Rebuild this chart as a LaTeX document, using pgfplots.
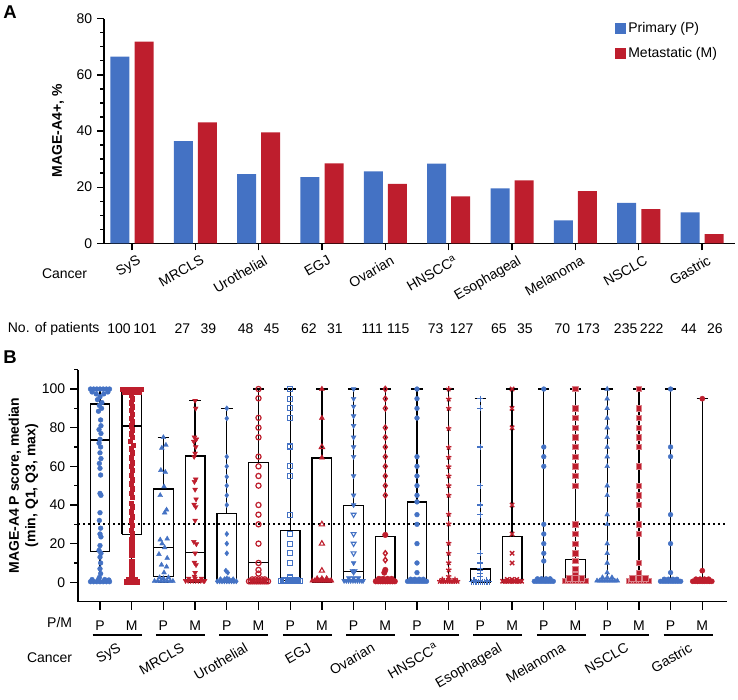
\documentclass[border=0pt]{standalone}
\usepackage{fontspec}
\setmainfont{Liberation Sans}
\usepackage{pgfplots}
\pgfplotsset{compat=1.18}
\definecolor{pblue}{RGB}{68,114,196}
\definecolor{mred}{RGB}{190,30,45}
\pgfplotsset{
  bx/.style={black, line width=1.3pt, mark=none, solid, unbounded coords=jump, line join=miter},
  pts/.style={only marks, mark size=2.4pt},
}
\begin{document}
\fontsize{14}{16.5}\selectfont
\begin{tikzpicture}
\useasboundingbox (0pt,0pt) rectangle (738pt,-699pt);
% ---------------- Panel A ----------------
\begin{axis}[
  at={(104pt,-243.3pt)}, anchor=south west,
  scale only axis, width=631pt, height=224.6pt,
  xmin=-0.442, xmax=9.52, ymin=0, ymax=80,
  axis x line=bottom, axis y line=left,
  axis line style={line width=1.4pt, -},
  xtick={0,...,9},
  xticklabels={SyS,MRCLS,Urothelial,EGJ,Ovarian,HNSCC\textsuperscript{a},Esophageal,Melanoma,NSCLC,Gastric},
  xticklabel style={rotate=30, anchor=north east, inner sep=0pt, xshift=2pt, yshift=-6pt},
  ytick={0,20,...,80}, minor y tick num=3,
  tick align=outside,
  major tick length=7pt, minor tick length=4pt,
  every tick/.style={line width=1.3pt, black},
  /pgf/number format/assume math mode=true,
  clip=false,
  legend style={at={(0.81,0.995)}, anchor=north west, draw=none, fill=none,
    inner sep=0pt, row sep=9pt, cells={anchor=west}},
]
\addplot[ybar, bar width=19pt, bar shift=0pt, fill=pblue, draw=none,
  legend image code/.code={\fill[pblue] (0pt,-5.5pt) rectangle (11pt,5.5pt);}]
  coordinates {(-0.19,66.5)(0.81,36.4)(1.81,24.6)(2.81,23.6)(3.81,25.6)(4.81,28.4)(5.81,19.6)(6.81,8.2)(7.81,14.4)(8.81,11.0)};
\addlegendentry{Primary (P)}
\addplot[ybar, bar width=19pt, bar shift=0pt, fill=mred, draw=none,
  legend image code/.code={\fill[mred] (0pt,-5.5pt) rectangle (11pt,5.5pt);}]
  coordinates {(0.19,71.8)(1.19,43.1)(2.19,39.5)(3.19,28.5)(4.19,21.2)(5.19,16.7)(6.19,22.4)(7.19,18.6)(8.19,12.2)(9.19,3.3)};
\addlegendentry{Metastatic (M)}
\end{axis}
\node[font=\bfseries\fontsize{18.5}{20}\selectfont] at (10pt,-12pt) {A};
\node[rotate=90, font=\bfseries] at (58pt,-131pt) {MAGE-A4+, \%};
\node[anchor=east] at (92pt,-274pt) {Cancer};
\node[anchor=west] at (3pt,-329pt) {No. of patients};
\foreach \i/\p/\m in {0/100/101,1/27/39,2/48/45,3/62/31,4/111/115,5/73/127,6/65/35,7/70/173,8/235/222,9/44/26}{
  \node at ({119pt+63.33pt*\i},-329pt) {\p};
  \node at ({145pt+63.33pt*\i},-329pt) {\m};
}
% ---------------- Panel B ----------------
\begin{axis}[
  at={(78pt,-601.6pt)}, anchor=south west,
  scale only axis, width=649pt, height=231.9pt,
  xmin=-0.694, xmax=19.78, ymin=-10, ymax=110,
  axis x line=bottom, axis y line=left,
  axis line style={line width=1.4pt, -},
  xtick={0,...,19},
  xticklabels={P,M,P,M,P,M,P,M,P,M,P,M,P,M,P,M,P,M,P,M},
  xticklabel style={yshift=-6pt},
  ytick={0,20,...,100}, minor ytick={10,30,50,70,90,110},
  tick align=outside,
  major tick length=8pt, minor tick length=4pt,
  every tick/.style={line width=1.3pt, black},
  /pgf/number format/assume math mode=true,
  clip=false,
]
\addplot[black, line width=2pt, dash pattern=on 2pt off 3pt] coordinates {(-0.694,30)(19.78,30)};
% boxes: Q1-Q3 box, median, whiskers to min and max with caps
\addplot[bx] coordinates {(-0.31,16)(0.31,16)(0.31,92.2)(-0.31,92.2)(-0.31,16)(0,nan)(-0.31,73.6)(0.31,73.6)(0,nan)(0,92.2)(0,100)(0,nan)(-0.18,100)(0.18,100)(0,nan)(0,0)(0,16)(0,nan)(-0.18,0)(0.18,0)};
\addplot[bx] coordinates {(0.69,24.8)(1.31,24.8)(1.31,99.5)(0.69,99.5)(0.69,24.8)(1,nan)(0.69,80.9)(1.31,80.9)(1,nan)(1,99.5)(1,100)(1,nan)(0.82,100)(1.18,100)(1,nan)(1,0)(1,24.8)(1,nan)(0.82,0)(1.18,0)};
\addplot[bx] coordinates {(1.69,2.9)(2.31,2.9)(2.31,48.3)(1.69,48.3)(1.69,2.9)(2,nan)(1.69,17.9)(2.31,17.9)(2,nan)(2,48.3)(2,75)(2,nan)(1.82,75)(2.18,75)(2,nan)(2,0)(2,2.9)(2,nan)(1.82,0)(2.18,0)};
\addplot[bx] coordinates {(2.69,1)(3.31,1)(3.31,65.3)(2.69,65.3)(2.69,1)(3,nan)(2.69,15.3)(3.31,15.3)(3,nan)(3,65.3)(3,94.1)(3,nan)(2.82,94.1)(3.18,94.1)(3,nan)(3,0)(3,1)(3,nan)(2.82,0)(3.18,0)};
\addplot[bx] coordinates {(3.69,0.7)(4.31,0.7)(4.31,35.7)(3.69,35.7)(3.69,0.7)(4,nan)(3.69,1)(4.31,1)(4,nan)(4,35.7)(4,90)(4,nan)(3.82,90)(4.18,90)(4,nan)(4,0)(4,0.7)(4,nan)(3.82,0)(4.18,0)};
\addplot[bx] coordinates {(4.69,0)(5.31,0)(5.31,61.9)(4.69,61.9)(4.69,0)(5,nan)(4.69,10.3)(5.31,10.3)(5,nan)(5,61.9)(5,100)(5,nan)(4.82,100)(5.18,100)};
\addplot[bx] coordinates {(5.69,0)(6.31,0)(6.31,26.9)(5.69,26.9)(5.69,0)(6,nan)(5.69,1)(6.31,1)(6,nan)(6,26.9)(6,100)(6,nan)(5.82,100)(6.18,100)};
\addplot[bx] coordinates {(6.69,0)(7.31,0)(7.31,64.3)(6.69,64.3)(6.69,0)(7,nan)(7,64.3)(7,100)(7,nan)(6.82,100)(7.18,100)};
\addplot[bx] coordinates {(7.69,1)(8.31,1)(8.31,39.7)(7.69,39.7)(7.69,1)(8,nan)(7.69,5.5)(8.31,5.5)(8,nan)(8,39.7)(8,100)(8,nan)(7.82,100)(8.18,100)(8,nan)(8,0)(8,1)};
\addplot[bx] coordinates {(8.69,0)(9.31,0)(9.31,23.8)(8.69,23.8)(8.69,0)(9,nan)(9,23.8)(9,100)(9,nan)(8.82,100)(9.18,100)};
\addplot[bx] coordinates {(9.69,0)(10.31,0)(10.31,41.6)(9.69,41.6)(9.69,0)(10,nan)(10,41.6)(10,100)(10,nan)(9.82,100)(10.18,100)};
\addplot[bx] coordinates {(11,0)(11,100)(11,nan)(10.82,100)(11.18,100)};
\addplot[bx] coordinates {(11.69,0)(12.31,0)(12.31,6.8)(11.69,6.8)(11.69,0)(12,nan)(12,6.8)(12,95)(12,nan)(11.82,95)(12.18,95)};
\addplot[bx] coordinates {(12.69,0)(13.31,0)(13.31,23.8)(12.69,23.8)(12.69,0)(13,nan)(13,23.8)(13,100)(13,nan)(12.82,100)(13.18,100)};
\addplot[bx] coordinates {(14,0)(14,100)(14,nan)(13.82,100)(14.18,100)};
\addplot[bx] coordinates {(14.69,0)(15.31,0)(15.31,11.8)(14.69,11.8)(14.69,0)(15,nan)(15,11.8)(15,100)(15,nan)(14.82,100)(15.18,100)};
\addplot[bx] coordinates {(16,0)(16,100)(16,nan)(15.82,100)(16.18,100)};
\addplot[bx] coordinates {(17,0)(17,100)(17,nan)(16.82,100)(17.18,100)};
\addplot[bx] coordinates {(18,0)(18,100)(18,nan)(17.82,100)(18.18,100)};
\addplot[bx] coordinates {(19,0)(19,95)(19,nan)(18.82,95)(19.18,95)};
% SyS P
\addplot[pts, mark=*, pblue] coordinates {(-0.3,100)(-0.2,100)(-0.1,100)(0,100)(0.1,100)(0.2,100)(0.3,100)(-0.25,98.5)(0.25,98.5)(-0.12,97.5)(0.12,97.5)(0,96)(-0.08,94.5)(0.06,93)(-0.02,91.5)(0.05,90)(-0.05,88.5)(0.02,84)(0.03,81)(-0.03,79)(0.03,77)(0,74)(-0.03,72)(0.02,70)(0,67)(0.03,64)(-0.02,61.5)(0,59)(0.02,55.5)(0,46)(0.03,45)(0,36)(-0.02,32)(0.02,28)(0,25)(0.03,23.5)(0,19)(-0.03,16.5)(0.03,15)(0,13)(0.02,10)(0,7)(0.02,4.5)(-0.02,2.5)(-0.3,0.3)(-0.2,0.3)(-0.1,0.3)(0,0.3)(0.1,0.3)(0.2,0.3)(0.3,0.3)(-0.25,1.4)(-0.05,1.4)(0.15,1.4)(0.28,1.2)};
% SyS M
\addplot[pts, mark=square*, mark size=2.3pt, mred] coordinates {(0.7,100)(0.8,100)(0.9,100)(1,100)(1.1,100)(1.2,100)(1.3,100)(0.78,98.5)(1.22,98.5)(0.9,98.5)(1.1,98.5)(0.98,97)(1.02,95)(0.98,93)(1.02,91)(0.98,89)(1.02,87)(0.98,85)(1.02,83)(0.98,81)(1.02,79)(0.98,77)(1.02,75)(0.95,73)(1.05,71)(0.98,69)(1.02,67)(0.98,64.5)(1.02,62)(0.98,60)(1.02,58)(0.98,55.5)(1.02,53)(0.98,51)(1.02,48.5)(0.98,46)(1.02,44)(0.98,41)(1.02,39)(0.98,36.5)(1.02,34)(0.98,32)(1.02,29.5)(0.98,27)(1.02,25)(1,22)(1,19.5)(1,17)(1,14)(1,11)(1,8)(1,5.5)(1,3)(0.85,0.4)(0.95,0.4)(1.05,0.4)(1.15,0.4)(0.9,1.5)(1.1,1.5)};
% MRCLS P
\addplot[pts, mark=triangle*, mark size=2.8pt, pblue] coordinates {(2,75)(2.08,71)(1.95,69.5)(1.92,58)(2.06,57)(2.02,49.5)(1.9,45)(2.1,37.5)(2.04,36)(1.9,22)(2.12,22.5)(1.96,20)(2.04,18)(1.86,14.5)(2.12,12.5)(1.94,9)(2.1,8)(2.02,5)(1.88,2.5)(2.16,2.5)(2,2)(1.72,0.6)(1.82,0.6)(1.92,0.6)(2.02,0.6)(2.12,0.6)(2.22,0.6)(2.3,0.6)};
% MRCLS M
\addplot[pts, mark=triangle*, mark size=2.8pt, mark options={rotate=180}, mred] coordinates {(3,94)(3.02,90)(2.98,75)(3.04,74)(2.96,72.8)(3.02,70)(3,66.7)(2.97,65)(3.02,53.3)(2.98,52)(3,48)(3.03,43)(2.97,40.2)(3.02,39)(3,32)(2.96,21)(3.04,19.8)(3,15)(2.98,10.2)(3.03,9)(3,5)(2.98,3)(2.7,0.8)(2.78,0.8)(2.86,0.8)(2.94,0.8)(3.02,0.8)(3.1,0.8)(3.18,0.8)(3.26,0.8)(3.3,0.8)(2.8,2)(3,2)(3.2,2)};
% Urothelial P
\addplot[pts, mark=diamond*, mark size=2.6pt, pblue] coordinates {(4,90)(4,84.8)(4,65)(4,60)(4,54.6)(4,50)(4,45)(4,40)(4,25)(4,20)(4,15)(3.97,6)(4.03,5)(4,2)(3.7,0.5)(3.775,0.5)(3.85,0.5)(3.925,0.5)(4,0.5)(4.075,0.5)(4.15,0.5)(4.225,0.5)(4.3,0.5)(3.8,1.6)(3.93,1.6)(4.07,1.6)(4.2,1.6)};
% Urothelial M
\addplot[pts, mark=o, mark size=2.6pt, mark options={line width=1.2pt}, mred] coordinates {(5,100)(5,95.2)(5,85.1)(5,80)(5,75)(5,65)(5,60)(5,55)(5,50)(5,40)(5,35)(5,30)(5,20)(5,10)(5,6.4)(5,4.5)(4.7,0.5)(4.76,0.5)(4.82,0.5)(4.88,0.5)(4.94,0.5)(5,0.5)(5.06,0.5)(5.12,0.5)(5.18,0.5)(5.24,0.5)(5.3,0.5)(4.8,1.5)(4.9,1.5)(5,1.5)(5.1,1.5)(5.2,1.5)};
% EGJ P
\addplot[pts, mark=square, mark size=2.5pt, mark options={line width=1.1pt}, pblue] coordinates {(6,100)(6,95)(6,90)(6,85)(6,70)(6,70.6)(6,60)(6,55)(6,35)(6,25)(6,20)(6,15)(6,10)(6,2.5)(5.7,0.5)(5.76,0.5)(5.82,0.5)(5.88,0.5)(5.94,0.5)(6,0.5)(6.06,0.5)(6.12,0.5)(6.18,0.5)(6.24,0.5)(6.3,0.5)(5.8,1.2)(6,1.2)(6.2,1.2)};
% EGJ M filled
\addplot[pts, mark=triangle*, mark size=3pt, mred] coordinates {(7,100)(7,85)(7,64.5)(6.7,0.8)(6.77,0.8)(6.84,0.8)(6.91,0.8)(6.98,0.8)(7.05,0.8)(7.12,0.8)(7.19,0.8)(7.26,0.8)(7.3,0.8)(6.85,2)(7,2)(7.15,2)};
% EGJ M open
\addplot[pts, mark=triangle, mark size=3pt, mark options={line width=1.1pt}, mred] coordinates {(7,70)(7,30)(7,20)(7,6)};
% Ovarian P filled
\addplot[pts, mark=triangle*, mark size=2.8pt, mark options={rotate=180}, pblue] coordinates {(8,100)(8,95)(8,91)(8,86)(8,81)(8,75)(8,70)(8,65)(8,55)(8,45)(8,40)(8,10)(7.96,6)(8.04,6)(8,5)(7.7,0.8)(7.77,0.8)(7.84,0.8)(7.91,0.8)(7.98,0.8)(8.05,0.8)(8.12,0.8)(8.19,0.8)(8.26,0.8)(8.3,0.8)(7.85,2.2)(8,2.2)(8.15,2.2)};
% Ovarian P open
\addplot[pts, mark=triangle, mark size=2.8pt, mark options={rotate=180, line width=1.1pt}, pblue] coordinates {(8,35)(8,25)(8,20)(8,15)};
% Ovarian M open diamond
\addplot[pts, mark=diamond, mark size=2.6pt, mark options={line width=1.4pt}, mred] coordinates {(9,100)(9,95)(9,90)(9,80)(9,75)(9,70)(9,65)(9,60)(9,55)(9,50)(9,45)(9,15)(9,11.5)};
% Ovarian M filled
\addplot[pts, mark=*, mark size=2.8pt, mred] coordinates {(9,24.5)(9,6.4)(8.97,5)(8.7,0.5)(8.775,0.5)(8.85,0.5)(8.925,0.5)(9,0.5)(9.075,0.5)(9.15,0.5)(9.225,0.5)(9.3,0.5)(8.8,1.8)(8.93,1.8)(9.07,1.8)(9.2,1.8)};
% HNSCC P
\addplot[pts, mark=*, pblue] coordinates {(10,100)(10,95)(10,90)(10,85)(10,65)(10,60)(10,55)(10,50)(10,45)(10,41.6)(10,35)(10,30)(10,20)(10,10)(10,5)(9.7,0.5)(9.775,0.5)(9.85,0.5)(9.925,0.5)(10,0.5)(10.075,0.5)(10.15,0.5)(10.225,0.5)(10.3,0.5)(9.8,1.6)(9.93,1.6)(10.07,1.6)(10.2,1.6)};
% HNSCC M
\addplot[pts, mark=star, mark size=2.8pt, mark options={line width=1.3pt}, mred] coordinates {(11,100)(11,94.8)(11,90)(11,79.6)(11,69.8)(11,64.7)(11,59.8)(11,55)(11,50)(11,45)(11,35.2)(11,30.2)(11,20.2)(11,15)(11,10.1)(11,6.4)(11,3)(10.72,0.5)(10.79,0.5)(10.86,0.5)(10.93,0.5)(11,0.5)(11.07,0.5)(11.14,0.5)(11.21,0.5)(11.28,0.5)(10.8,1.5)(11,1.5)(11.2,1.5)};
% Esophageal P
\addplot[pts, mark=+, mark size=3pt, mark options={line width=1.2pt}, pblue] coordinates {(12,95)(12,90)(12,70)(12,50)(12,40)(12,35)(12,15)(12,10)(12,7)(12,6)(12,4.5)(12,3)(11.72,0.3)(11.79,0.3)(11.86,0.3)(11.93,0.3)(12,0.3)(12.07,0.3)(12.14,0.3)(12.21,0.3)(12.28,0.3)(11.8,1)(12,1)(12.2,1)};
% Esophageal M
\addplot[pts, mark=x, mark size=3pt, mark options={line width=1.4pt}, mred] coordinates {(13,100)(13,90)(13,80)(13,40)(13,25)(13,15)(13,10)(12.7,0.5)(12.775,0.5)(12.85,0.5)(12.925,0.5)(13,0.5)(13.075,0.5)(13.15,0.5)(13.225,0.5)(13.3,0.5)(12.85,1.5)(13,1.5)(13.15,1.5)};
% Melanoma P
\addplot[pts, mark=*, pblue] coordinates {(14,100)(14,70)(14,65)(14,60)(14,30)(14,25)(14,20)(14,15)(14,11)(13.7,0.5)(13.775,0.5)(13.85,0.5)(13.925,0.5)(14,0.5)(14.075,0.5)(14.15,0.5)(14.225,0.5)(14.3,0.5)(13.8,1.8)(13.93,1.8)(14.07,1.8)(14.2,1.8)};
% Melanoma M
\addplot[pts, mark=square*, mark size=2.7pt, mark options={draw=mred!55!white, line width=0.7pt}, mred] coordinates {(15,100)(15,90)(15,85)(15,80)(15,75)(15,70)(15,65)(15,60)(15,55)(15,50)(15,30)(15,25)(15,20)(15,15)(15,11)(15,7)(15,4)(14.68,0.8)(14.76,0.8)(14.84,0.8)(14.92,0.8)(15,0.8)(15.08,0.8)(15.16,0.8)(15.24,0.8)(15.32,0.8)(14.8,2)(15,2)(15.2,2)};
% NSCLC P
\addplot[pts, mark=triangle*, mark size=2.8pt, pblue] coordinates {(16,100)(16,95)(16,90)(16,85)(16,80)(16,75)(16,70)(16,65)(16,60)(16,50)(16,45)(16,35)(16,30)(16,20)(16,15)(16,10)(16,5)(15.68,0.8)(15.76,0.8)(15.84,0.8)(15.92,0.8)(16,0.8)(16.08,0.8)(16.16,0.8)(16.24,0.8)(16.32,0.8)(15.85,2.5)(16,2.5)(16.15,2.5)};
% NSCLC M
\addplot[pts, mark=square*, mark size=2.7pt, mark options={draw=mred!55!white, line width=0.7pt}, mred] coordinates {(17,100)(17,90)(17,85)(17,80)(17,75)(17,70)(17,60)(17,50)(17,45)(17,40)(17,30)(17,25)(17,10)(17,5)(16.68,0.8)(16.76,0.8)(16.84,0.8)(16.92,0.8)(17,0.8)(17.08,0.8)(17.16,0.8)(17.24,0.8)(17.32,0.8)(16.8,2)(17,2)(17.2,2)};
% Gastric P
\addplot[pts, mark=*, pblue] coordinates {(18,100)(18,70)(18,65)(18,35)(18,20)(18,5)(17.68,0.5)(17.76,0.5)(17.84,0.5)(17.92,0.5)(18,0.5)(18.08,0.5)(18.16,0.5)(18.24,0.5)(18.32,0.5)(17.8,1.6)(17.93,1.6)(18.07,1.6)(18.2,1.6)};
% Gastric M
\addplot[pts, mark=*, mark size=2.6pt, mred] coordinates {(19,95)(19,6)(18.7,0.5)(18.775,0.5)(18.85,0.5)(18.925,0.5)(19,0.5)(19.075,0.5)(19.15,0.5)(19.225,0.5)(19.3,0.5)(18.8,1.6)(18.93,1.6)(19.07,1.6)(19.2,1.6)};
\end{axis}
\node[font=\bfseries\fontsize{18.5}{20}\selectfont] at (10pt,-357pt) {B};
\node[rotate=90, font=\bfseries, align=center, text depth=0pt] at (22pt,-485.6pt) {MAGE-A4 P score, median\\(min, Q1, Q3, max)};
\node[anchor=east] at (77pt,-622pt) {P/M};
\node[anchor=east] at (77pt,-658pt) {Cancer};
\foreach \i/\nm in {0/SyS,1/MRCLS,2/Urothelial,3/EGJ,4/Ovarian,5/{HNSCC\textsuperscript{a}},6/Esophageal,7/Melanoma,8/NSCLC,9/Gastric}{
  \draw[line width=1.2pt] ({92.5pt+63.47pt*\i},-635pt) -- ({141.5pt+63.47pt*\i},-635pt);
  \node[rotate=30, anchor=north east, inner sep=0pt] at ({117pt+63.47pt*\i},-642pt) {\nm};
}
\end{tikzpicture}
\end{document}
